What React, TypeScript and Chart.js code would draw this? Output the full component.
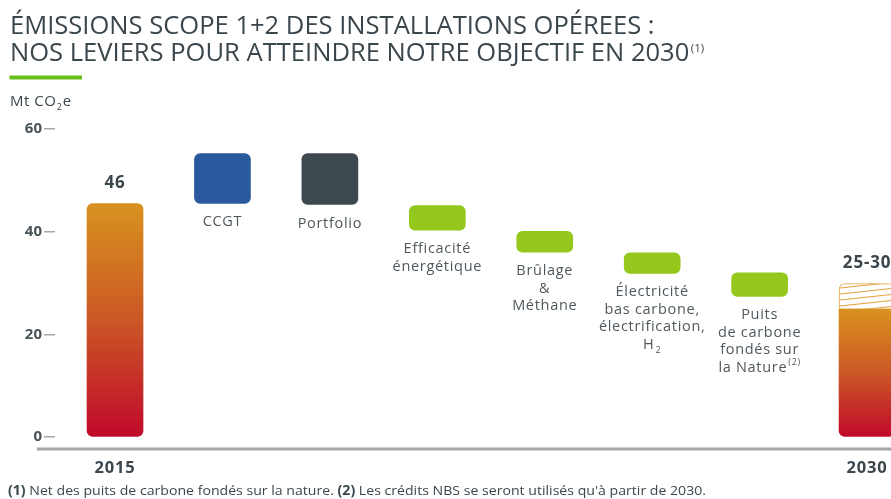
import React, { useEffect, useRef } from 'react';
import { Chart, registerables } from 'chart.js';

Chart.register(...registerables);

// ---------- data ----------
const categories = ['2015', 'CCGT', 'Portfolio', 'Efficacité énergétique', 'Brûlage & Méthane', 'Électricité bas carbone, électrification, H2', 'Puits de carbone fondés sur la Nature', '2030'];
const barLow = [0, 45.5, 45.3, 40.3, 36.0, 31.9, 27.4, 0];
const barHigh = [45.5, 55.2, 55.2, 45.1, 40.1, 35.9, 32.0, 24.9];
const targetBand2030 = [24.9, 29.9];
const valueLabels = ['46', '', '', '', '', '', '', '25-30'];
const xLabels = ['2015', '', '', '', '', '', '', '2030'];
const leverLabels: string[][] = [
  [],
  ['CCGT'],
  ['Portfolio'],
  ['Efficacité', 'énergétique'],
  ['Brûlage', '&', 'Méthane'],
  ['Électricité', 'bas carbone,', 'électrification,', 'H_2'],
  ['Puits', 'de carbone', 'fondés sur', 'la Nature^(2)'],
  [],
];
const yTicks = [0, 20, 40, 60];
const titleLines = ['ÉMISSIONS SCOPE 1+2 DES INSTALLATIONS OPÉREES :', 'NOS LEVIERS POUR ATTEINDRE NOTRE OBJECTIF EN 2030'];
const titleNote = '(1)';
const footnoteParts = [
  { t: '(1)', b: true },
  { t: ' Net des puits de carbone fondés sur la nature. ', b: false },
  { t: '(2)', b: true },
  { t: " Les crédits NBS se seront utilisés qu'à partir de 2030.", b: false },
];

// ---------- style ----------
const W = 930;
const H = 499;
const FONT = '"Open Sans", "DejaVu Sans", sans-serif';
const TEXT = '#3b464c';
const LABEL = '#4f585d';
const barColors = ['grad', '#2a5a9d', '#3e494f', '#95c81c', '#95c81c', '#95c81c', '#95c81c', 'grad'];

function makeHatch(): CanvasPattern | string {
  const c = document.createElement('canvas');
  c.width = 56;
  c.height = 6;
  const g = c.getContext('2d');
  if (!g) return '#ffffff';
  g.fillStyle = '#ffffff';
  g.fillRect(0, 0, 56, 6);
  g.strokeStyle = '#e3a446';
  g.lineWidth = 1.1;
  for (const off of [-6, 0, 6]) {
    g.beginPath();
    g.moveTo(0, 6 + off);
    g.lineTo(56, off);
    g.stroke();
  }
  return g.createPattern(c, 'repeat') || '#ffffff';
}

function drawRich(ctx: CanvasRenderingContext2D, text: string, x: number, y: number, size: number, weight: string, color: string, align: 'center' | 'left') {
  const m = text.match(/^(.*?)([_^])(.*)$/);
  const main = m ? m[1] : text;
  const kind = m ? m[2] : '';
  const small = m ? m[3] : '';
  const ss = Math.round(size * 0.6);
  ctx.font = `${weight} ${size}px ${FONT}`;
  const w1 = ctx.measureText(main).width;
  ctx.font = `${weight} ${ss}px ${FONT}`;
  const w2 = small ? ctx.measureText(small).width + 1 : 0;
  const x0 = align === 'center' ? x - (w1 + w2) / 2 : x;
  ctx.fillStyle = color;
  ctx.textAlign = 'left';
  ctx.textBaseline = 'alphabetic';
  ctx.font = `${weight} ${size}px ${FONT}`;
  ctx.fillText(main, x0, y);
  if (small) {
    ctx.font = `${weight} ${ss}px ${FONT}`;
    ctx.fillText(small, x0 + w1 + 1, y + (kind === '_' ? size * 0.3 : -size * 0.45));
  }
  return x0 + w1 + w2;
}

const decorPlugin = {
  id: 'decor',
  afterDraw(chart: any) {
    const ctx: any = chart.ctx;
    const xs = chart.scales.x;
    const area = chart.chartArea;
    ctx.save();

    // title (fitted to reference width)
    ctx.font = `400 22px ${FONT}`;
    const w0 = ctx.measureText(titleLines[0]).width;
    const tSize = 22 * 645 / w0;
    ctx.fillStyle = TEXT;
    ctx.textAlign = 'left';
    ctx.textBaseline = 'alphabetic';
    ctx.font = `400 ${tSize}px ${FONT}`;
    ctx.fillText(titleLines[0], 10, 33.5);
    ctx.fillText(titleLines[1], 10, 61);
    const w1 = ctx.measureText(titleLines[1]).width;
    ctx.font = `400 ${tSize * 0.45}px ${FONT}`;
    ctx.fillText(titleNote, 10 + w1 + 1.5, 52);

    // green rule
    ctx.fillStyle = '#6bbf1d';
    ctx.fillRect(9.5, 75.5, 72.5, 4);

    // unit
    ctx.fillStyle = TEXT;
    ctx.letterSpacing = '0.5px';
    ctx.font = `400 15px ${FONT}`;
    ctx.fillText('Mt CO', 10, 106);
    const wu = ctx.measureText('Mt CO').width;
    ctx.font = `400 9px ${FONT}`;
    ctx.fillText('2', 10 + wu + 0.5, 110);
    ctx.font = `400 15px ${FONT}`;
    ctx.fillText('e', 10 + wu + 6.5, 106);

    // x axis line
    ctx.strokeStyle = '#a2a6a8';
    ctx.lineWidth = 3;
    ctx.beginPath();
    ctx.moveTo(37, area.bottom);
    ctx.lineTo(W, area.bottom);
    ctx.stroke();

    const meta0 = chart.getDatasetMeta(0);
    const meta1 = chart.getDatasetMeta(1);
    categories.forEach((_, i) => {
      const cx = xs.getPixelForValue(i);
      const el = meta0.data[i];
      if (!el) return;
      let top = Math.min(el.y, el.base);
      const bottom = Math.max(el.y, el.base);
      if (i === 7 && meta1.data[0]) top = Math.min(meta1.data[0].y, meta1.data[0].base);
      ctx.letterSpacing = '0.8px';
      if (valueLabels[i]) {
        ctx.fillStyle = TEXT;
        ctx.font = `700 17px ${FONT}`;
        ctx.textAlign = 'center';
        ctx.fillText(valueLabels[i], cx, top - 15.5);
      }
      if (xLabels[i]) {
        ctx.fillStyle = TEXT;
        ctx.font = `700 16.5px ${FONT}`;
        ctx.textAlign = 'center';
        ctx.fillText(xLabels[i], cx, 472.5);
      }
      ctx.letterSpacing = '0.7px';
      leverLabels[i].forEach((line, k) => {
        drawRich(ctx, line, cx, bottom + 23 + k * 17.4, 14.5, '400', LABEL, 'center');
      });
      ctx.letterSpacing = '0px';
    });

    // footnote (condensed)
    const fs = 13.5;
    let total = 0;
    footnoteParts.forEach((p) => {
      ctx.font = `${p.b ? 700 : 400} ${fs}px ${FONT}`;
      total += ctx.measureText(p.t).width;
    });
    const sx = 698 / total;
    ctx.save();
    ctx.translate(8, 495);
    ctx.scale(sx, 1);
    let fx = 0;
    ctx.textAlign = 'left';
    footnoteParts.forEach((p) => {
      ctx.font = `${p.b ? 700 : 400} ${fs}px ${FONT}`;
      ctx.fillStyle = TEXT;
      ctx.fillText(p.t, fx, 0);
      fx += ctx.measureText(p.t).width;
    });
    ctx.restore();

    ctx.restore();
  },
};

export default function App() {
  const ref = useRef<HTMLCanvasElement | null>(null);

  useEffect(() => {
    document.body.style.margin = '0';
    const canvas = ref.current;
    if (!canvas) return;
    const hatch = makeHatch();

    const gradFor = (chart: any, i: number) => {
      const ys = chart.scales && chart.scales.y;
      if (!ys) return '#cc5a26';
      const top = ys.getPixelForValue(barHigh[i]);
      const bot = ys.getPixelForValue(barLow[i]);
      if (!isFinite(top) || !isFinite(bot) || top === bot) return '#cc5a26';
      const g = chart.ctx.createLinearGradient(0, top, 0, bot);
      g.addColorStop(0, '#d8921f');
      g.addColorStop(0.5, '#cb5725');
      g.addColorStop(1, '#c0092b');
      return g;
    };

    const chart = new Chart(canvas, {
      type: 'bar',
      data: {
        datasets: [
          {
            data: categories.map((_, i) => ({ x: i, y: [barLow[i], barHigh[i]] })) as any,
            backgroundColor: (c: any) => (barColors[c.dataIndex] === 'grad' ? gradFor(c.chart, c.dataIndex) : barColors[c.dataIndex]),
            borderRadius: (c: any) => (c.dataIndex === 7 ? { topLeft: 0, topRight: 0, bottomLeft: 6, bottomRight: 6 } : 6),
            borderSkipped: false,
            barThickness: 56,
            grouped: false,
          } as any,
          {
            data: [{ x: 7, y: targetBand2030 }] as any,
            backgroundColor: hatch as any,
            borderColor: '#e3a446',
            borderWidth: 1,
            borderRadius: { topLeft: 6, topRight: 6, bottomLeft: 0, bottomRight: 0 },
            borderSkipped: false,
            barThickness: 56,
            grouped: false,
          } as any,
        ],
      },
      options: {
        responsive: false,
        animation: false,
        events: [],
        layout: { padding: { top: 129, bottom: 50, left: 0, right: 0 } },
        plugins: { legend: { display: false }, tooltip: { enabled: false }, title: { display: false } },
        scales: {
          x: { type: 'linear', min: -0.5587, max: 7.586, offset: false, display: false, grid: { offset: false } },
          y: {
            min: -2.3,
            max: 60,
            afterBuildTicks: (axis: any) => {
              axis.ticks = yTicks.map((v) => ({ value: v }));
            },
            afterFit: (axis: any) => {
              axis.width = 55;
            },
            border: { display: false },
            grid: { drawOnChartArea: false, drawTicks: true, tickLength: 11, color: '#a3a6a8', lineWidth: 1.5 },
            ticks: { padding: 2, color: '#4a5358', font: { family: FONT, size: 15, weight: 'bold' } },
          },
        },
      },
      plugins: [decorPlugin],
    });
    return () => chart.destroy();
  }, []);

  return (
    <div style={{ position: 'relative', width: 891, height: 499, overflow: 'hidden', background: '#fff' }}>
      <canvas ref={ref} width={W} height={H} style={{ position: 'absolute', left: 0, top: 0, width: W, height: H }} />
    </div>
  );
}
